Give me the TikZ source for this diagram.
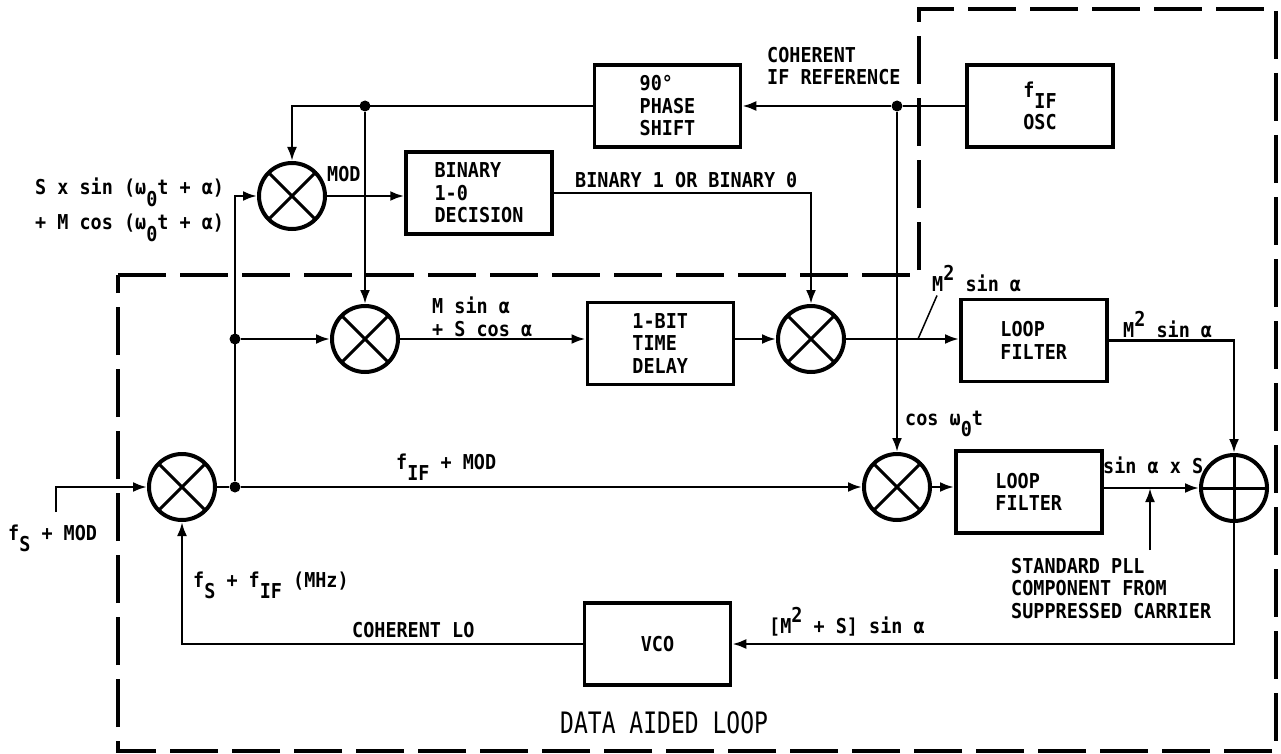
\documentclass[tikz,border=0pt]{standalone}
\usepackage{fontspec}
\usetikzlibrary{positioning, arrows.meta, calc}
\newfontfamily\lblfont{DejaVu Sans Mono}[FakeStretch=0.9]
\newfontfamily\titlefont{DejaVu Sans Mono}[FakeStretch=0.78]
\newcommand{\lblsize}{\lblfont\bfseries\fontsize{20.5pt}{22.5pt}\selectfont}
\newcommand{\subtxt}[1]{\raisebox{-0.55em}{#1}}
\newcommand{\suptxt}[1]{\raisebox{0.5em}{#1}}

\begin{document}
\begin{tikzpicture}[
    x=1pt, y=-1pt,
    >={Latex[length=14pt, width=10pt]},
    every node/.style={font=\lblsize},
    sig/.style={line width=2.6pt},
    blk/.style={
        rectangle, draw, line width=3.5pt, align=left, inner sep=2pt,
        minimum width=146pt, minimum height=82pt,
    },
    mixer/.style={circle, draw, line width=4pt, minimum size=66pt,
        inner sep=0pt,
        path picture={
            \draw[line width=3pt] (path picture bounding box.north west)
                -- (path picture bounding box.south east);
            \draw[line width=3pt] (path picture bounding box.north east)
                -- (path picture bounding box.south west);
        }},
    summer/.style={circle, draw, line width=4pt, minimum size=66pt,
        inner sep=0pt,
        path picture={
            \draw[line width=3pt] (path picture bounding box.west)
                -- (path picture bounding box.east);
            \draw[line width=3pt] (path picture bounding box.north)
                -- (path picture bounding box.south);
        }},
    dot/.style={circle, fill, inner sep=0pt, minimum size=11pt},
    lbl/.style={inner sep=0pt, align=left},
    bound/.style={line width=4pt, dash pattern=on 48pt off 14pt}
]
\useasboundingbox (0,0) rectangle (1281,754);

% Data aided loop boundary
\draw[bound] (118,275) -- (919,275) -- (919,9) -- (1276,9)
    -- (1276,751) -- (118,751) -- cycle;

% Mixers and summer
\node[mixer] (mixin) at (182,487) {};
\node[mixer] (mixmod) at (292,196) {};
\node[mixer] (mixq) at (365,339) {};
\node[mixer] (mixd) at (811,339) {};
\node[mixer] (mixcos) at (897,487) {};
\node[summer] (sum) at (1234,488) {};

% Blocks
\node[blk] (phase) at (667.5,106) {90°\\PHASE\\SHIFT};
\node[blk, right=223pt of phase] (osc) {f\subtxt{IF}\\[5pt]OSC};
\node[blk] (decision) at (479,193) {BINARY\\1-0\\DECISION};
\node[blk, left=41pt of mixd, yshift=-4.5pt] (delay) {1-BIT\\TIME\\DELAY};
\node[blk, right=22pt of mixcos, yshift=-5pt] (lfb) {LOOP\\FILTER};
\node[blk, above=66pt of lfb, xshift=5pt] (lfa) {LOOP\\FILTER};
\node[blk] (vco) at (657.5,644) {VCO};

% Junctions
\node[dot] (jin) at (235,487) {};
\node[dot] (jq) at (235,339) {};
\node[dot] (jref) at (mixcos |- osc) {};
\node[dot] (jtop) at (mixq |- phase) {};

% --- Input side ---
\coordinate (fsin) at (56,512);
\draw[sig, ->] (fsin) |- (mixin.west);
\draw[sig] (mixin.east) -- (jin);
\draw[sig, ->] (jin) -- (mixcos.west);
\draw[sig, ->] (jin) |- (mixmod.west);
\draw[sig, ->] (jq) -- (mixq.west);

% --- Coherent IF reference ---
\draw[sig] (osc.west) -- (jref);
\draw[sig, ->] (jref) -- (phase.east);
\draw[sig, ->] (jref) -- (mixcos.north);
\draw[sig, ->] (phase.west) -| (mixmod.north);
\draw[sig, ->] (jtop) -- (mixq.north);

% --- Data aided path ---
\draw[sig, ->] (mixmod.east) -- (mixmod.east -| decision.west);
\draw[sig, ->] (decision.east) -| (mixd.north);
\draw[sig, ->] (mixq.east) -- (mixq.east -| delay.west);
\draw[sig, ->] (delay.east |- mixd.west) -- (mixd.west);
\draw[sig, ->] (mixd.east) -- (mixd.east -| lfa.west);
\draw[sig, ->] (mixcos.east) -- (mixcos.east -| lfb.west);

% --- Sum and loop back through the VCO ---
\draw[sig, ->] (lfa.east) -| (sum.north);
\draw[sig, ->] (lfb.east |- sum.west) -- (sum.west);
\coordinate (pllin) at (1150,550);
\draw[sig, ->] (pllin) -- (pllin |- sum.west);
\draw[sig, ->] (sum.south) |- (vco.east);
\draw[sig, ->] (vco.west) -| (mixin.south);

% Labels
\node[lbl, anchor=base west] (insig) at (8,540) {f\subtxt{S} + MOD};
\node[lbl, anchor=north west] (sigtop) at (35,178)
    {S x sin (ω\subtxt{0}t + α)\\[7pt]+ M cos (ω\subtxt{0}t + α)};
\node[lbl, anchor=base west] (modlbl) at (327,182) {MOD};
\node[lbl, anchor=north west] (cohref) at (767,47)
    {COHERENT\\IF REFERENCE};
\node[lbl, anchor=base west] (binlbl) at (575,188) {BINARY 1 OR BINARY 0};
\node[lbl, anchor=north west] (qlbl) at (432,297) {M sin α\\+ S cos α};
\node[lbl, anchor=base west] (msqa) at (932,291) {M\suptxt{2} sin α};
\node[lbl, anchor=base west] (msqb) at (1123,337) {M\suptxt{2} sin α};
\node[lbl, anchor=base west] (coslbl) at (905,425) {cos ω\subtxt{0}t};
\node[lbl, anchor=base west] (iflbl) at (396,469) {f\subtxt{IF} + MOD};
\node[lbl, anchor=base west] (slbl) at (1103,473) {sin α x S};
\node[lbl, anchor=north west] (plllbl) at (1011,558)
    {STANDARD PLL\\COMPONENT FROM\\SUPPRESSED CARRIER};
\node[lbl, anchor=base west] (sumlbl) at (769,633) {[M\suptxt{2} + S] sin α};
\node[lbl, anchor=base west] (lolbl) at (193,587)
    {f\subtxt{S} + f\subtxt{IF} (MHz)};
\node[lbl, anchor=base west] (colbl) at (352,637) {COHERENT LO};
\node[lbl, anchor=base west, font=\titlefont\fontsize{29.5pt}{32pt}\selectfont]
    (loopname) at (560,733) {DATA AIDED LOOP};

% Pointer from the M^2 label to its line
\coordinate (tickpt) at (918,339);
\draw[line width=1.5pt] ($(msqa.south west)+(5,4)$) -- (tickpt);

\end{tikzpicture}
\end{document}
